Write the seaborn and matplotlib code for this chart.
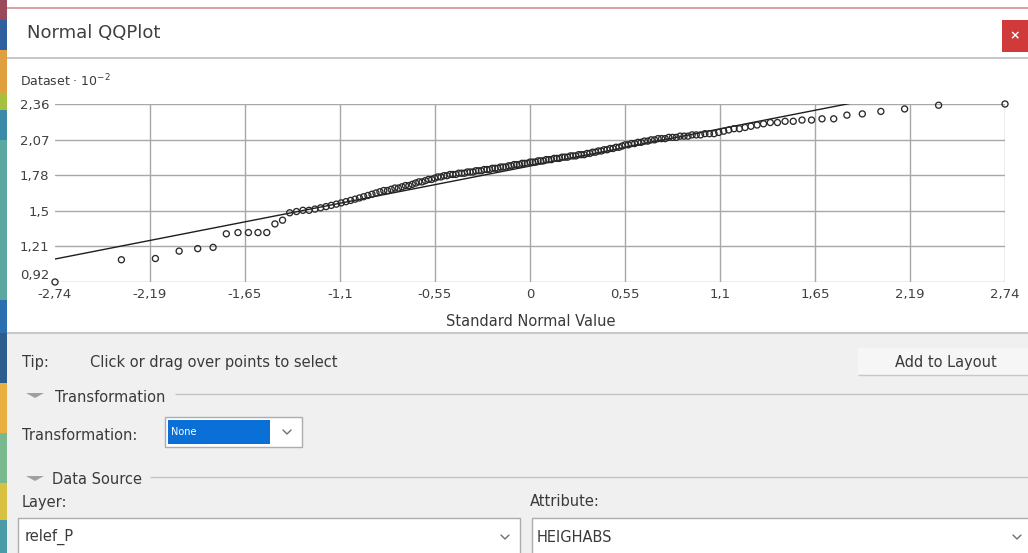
import matplotlib
matplotlib.use("Agg")
import matplotlib.pyplot as plt
from matplotlib.patches import Rectangle, Polygon
import numpy as np
import pandas as pd
import seaborn as sns
from statistics import NormalDist

# Sorted HEIGHABS values (m) of layer relef_P
heights = [
    92, 110, 111, 117, 119, 120, 131, 132, 132, 132, 132, 139, 142,
    148, 149, 150, 150, 151, 152, 153, 154, 155,
    156, 157, 158, 159, 160, 161, 162, 163, 164, 165,
    166, 166, 167, 168, 168, 169, 170, 170, 171, 172, 173, 173, 174, 175, 175, 176, 177, 177,
    178, 178, 179, 179, 179, 180, 180, 180, 181, 181, 181, 182, 182, 182, 183, 183, 183,
    184, 184, 184, 185, 185, 185, 186, 186, 187, 187, 187, 188, 188, 188,
    189, 189, 189, 190, 190, 190, 191, 191, 191, 192, 192, 192, 193, 193, 193,
    194, 194, 194, 195, 195, 195, 196, 196,
    197, 197, 198, 198, 199, 199, 200, 200, 201, 201, 202, 203,
    203, 204, 204, 205, 205, 206, 206, 207,
    207, 208, 208, 208, 209, 209, 209, 210, 210, 210, 211, 211, 211, 212, 212, 212, 213,
    214, 215, 216, 216, 217, 218, 219, 220,
    221, 221, 222, 222,
    223, 223, 224, 224, 227, 228, 230, 232, 235, 236,
]

# Reference line end points (standard normal value, dataset value * 10^-2)
ref_snv = [-2.74, 2.74]
ref_val = [1.106, 2.61]

x_tick_labels = ["-2,74", "-2,19", "-1,65", "-1,1", "-0,55", "0",
                 "0,55", "1,1", "1,65", "2,19", "2,74"]
y_tick_labels = ["0,92", "1,21", "1,5", "1,78", "2,07", "2,36"]

# Normal scores of the ranked values
n = len(heights)
nd = NormalDist()
df = pd.DataFrame({
    "snv": [nd.inv_cdf((i - 0.5) / n) for i in range(1, n + 1)],
    "value": np.array(heights) / 100.0,
})
ref = pd.DataFrame({"snv": ref_snv, "value": ref_val})

sns.set_style("white")
plt.rcParams["font.family"] = ["DejaVu Sans"]

W, H = 1028, 553
fig = plt.figure(figsize=(W / 100, H / 100), dpi=100)

# ---- dialog chrome drawn in pixel coordinates ----
ui = fig.add_axes([0, 0, 1, 1], zorder=0)
ui.set_xlim(0, W)
ui.set_ylim(H, 0)
ui.axis("off")

TXT = "#3a3a3a"
UI_FS = 10.5


def rect(x0, y0, x1, y1, fc, ec="none", lw=1.0, z=1):
    ui.add_patch(Rectangle((x0, y0), x1 - x0, y1 - y0, facecolor=fc,
                           edgecolor=ec, linewidth=lw, zorder=z))


def hline(x0, x1, y, color="#c4c4c4", lw=1.0):
    ui.plot([x0, x1], [y, y], color=color, lw=lw, solid_capstyle="butt", zorder=3)


def chevron(x, y, color="#707070"):
    ui.plot([x - 4, x, x + 4], [y - 2, y + 2, y - 2], color=color, lw=1.0, zorder=4)


def label(x, y, s, fs=UI_FS, color=TXT, ha="left", **kw):
    ui.text(x, y, s, fontsize=fs, color=color, ha=ha, va="center", zorder=5, **kw)


# desktop strip behind the window on the left
strip = [(0, 20, "#9a4a5a"), (20, 50, "#2f5f9f"), (50, 93, "#e0a040"),
         (93, 110, "#a8c040"), (110, 140, "#3a8aa8"), (140, 300, "#5aa8a0"),
         (300, 333, "#2a70b0"), (333, 383, "#2d5d8d"), (383, 433, "#e8b040"),
         (433, 483, "#7ab890"), (483, 520, "#d8c040"), (520, 553, "#4a9aa8")]
for y0, y1, c in strip:
    rect(0, y0, 7, y1, c)

# window areas
rect(7, 0, W, 7, "#ffffff")
rect(7, 7, W, 333, "#ffffff")
rect(7, 333, W, H, "#f0f0f0")
hline(7, W, 7.5, color="#d9a3a3", lw=1.5)
hline(7, W, 58, color="#bdbdbd", lw=1.2)
hline(7, W, 333, color="#c8c8c8", lw=1.5)

# title bar
label(27, 33, "Normal QQPlot", fs=13, color="#404040")
rect(1002, 20, W, 52, "#d03a3a")
ui.text(1015, 36, "\u00d7", fontsize=9, color="white", ha="center",
        va="center", zorder=5, fontweight="bold")

# axis captions
label(20, 81, "Dataset \u00b7 10$^{-2}$", fs=9)
label(531, 322, "Standard Normal Value", ha="center")

# tip row and button
label(22, 362, "Tip:")
label(90, 362, "Click or drag over points to select")
rect(858, 348, W, 375, "#f6f6f6")
hline(858, W, 375, color="#c8c8c8")
label(946, 362, "Add to Layout", ha="center")

# Transformation group
ui.add_patch(Polygon([(26, 393), (44, 393), (35, 398)], closed=True,
                     facecolor="#a0a0a0", edgecolor="none", zorder=4))
label(55, 397, "Transformation")
hline(175, W, 394)
label(22, 435, "Transformation:")
rect(165, 417, 302, 447, "#ffffff", ec="#adadad")
rect(168, 420, 270, 444, "#0a6fd6", z=2)
label(171, 432, "None", fs=7, color="white")
chevron(287, 432)

# Data Source group
ui.add_patch(Polygon([(26, 476), (44, 476), (35, 481)], closed=True,
                     facecolor="#a0a0a0", edgecolor="none", zorder=4))
label(52, 480, "Data Source")
hline(150, W, 477)
label(22, 502, "Layer:")
rect(18, 518, 520, 560, "#ffffff", ec="#adadad")
label(25, 537, "relef_P")
chevron(505, 537)
label(530, 502, "Attribute:")
rect(532, 518, 1032, 560, "#ffffff", ec="#adadad")
label(537, 537, "HEIGHABS")
chevron(1017, 537)

# ---- QQ plot ----
ax = fig.add_axes([55 / W, (H - 282) / H, 950 / W, 178 / H], zorder=2)
ax.patch.set_alpha(0)

xmin, xmax = df["snv"].min(), df["snv"].max()
ymin, ymax = df["value"].min(), df["value"].max()

sns.lineplot(data=ref, x="snv", y="value", ax=ax, color="#1e1e1e",
             lw=1.0, zorder=3)
sns.scatterplot(data=df, x="snv", y="value", ax=ax, marker="o", s=19,
                facecolors="none", edgecolor="#2a2a2a", linewidth=0.95,
                zorder=4, clip_on=False)

ax.set_xlim(xmin, xmax)
ax.set_ylim(ymin, ymax)
ax.set_xticks(np.linspace(xmin, xmax, len(x_tick_labels)))
ax.set_xticklabels(x_tick_labels)
ax.set_yticks(np.linspace(ymin, ymax, len(y_tick_labels)))
ax.set_yticklabels(y_tick_labels)
ax.set_xlabel("")
ax.set_ylabel("")
ax.tick_params(axis="both", length=0, labelsize=9.5, labelcolor="#404040")
ax.tick_params(axis="x", pad=4)
ax.tick_params(axis="y", pad=4)
# the lowest value label sits just above the corner
ax.get_yticklabels()[0].set_verticalalignment("bottom")
ax.grid(True, color="#a8a8a8", lw=1.0)
ax.set_axisbelow(True)
ax.xaxis.get_gridlines()[0].set_visible(False)
for sp in ax.spines.values():
    sp.set_visible(False)

fig.savefig("out.png", dpi=100)
